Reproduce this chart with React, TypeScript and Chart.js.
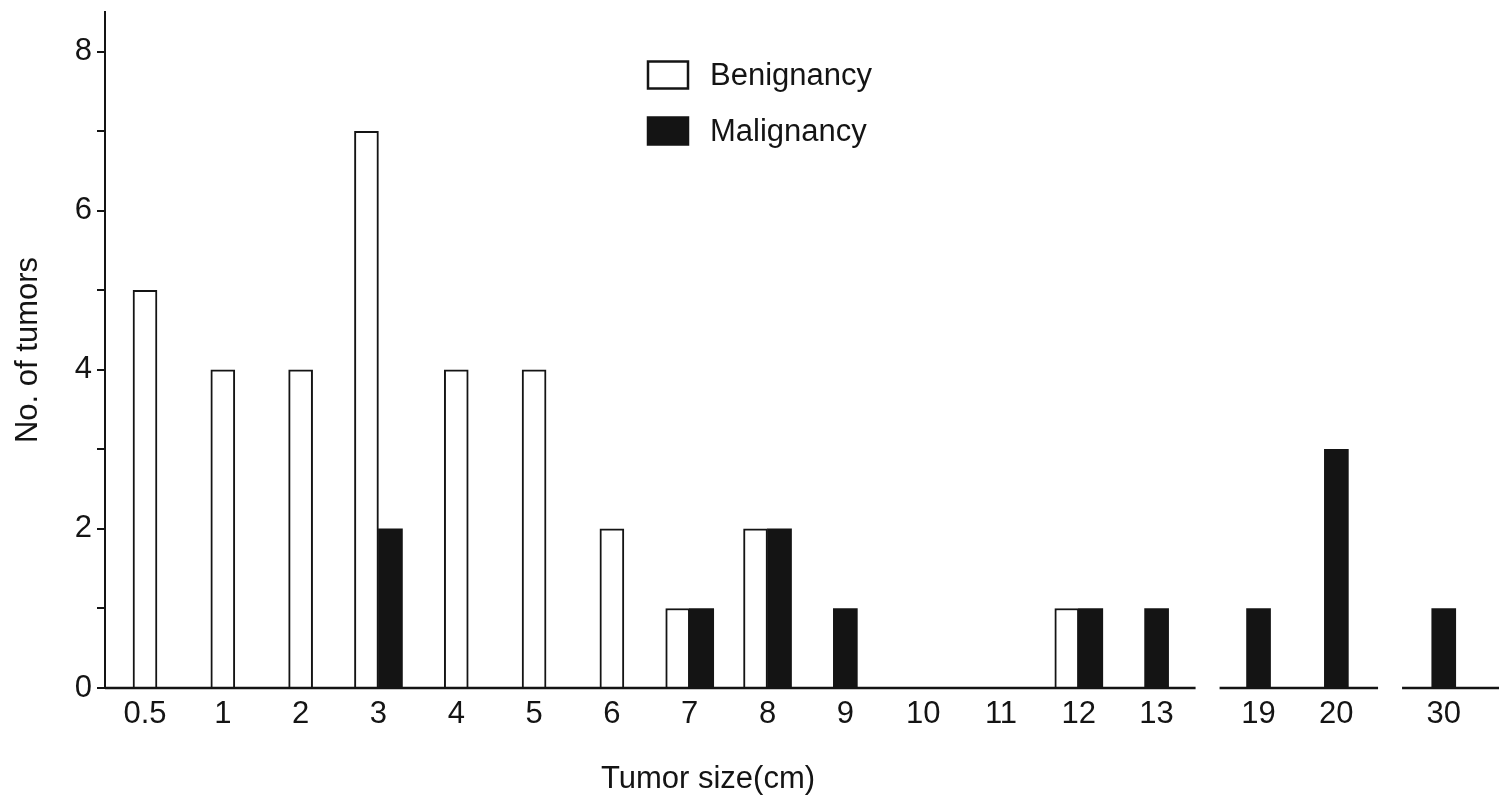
import React, { useEffect, useRef } from "react";
import { Chart, registerables } from "chart.js";

Chart.register(...registerables);

// ---- data ----
const sizeLabels = ["0.5", "1", "2", "3", "4", "5", "6", "7", "8", "9", "10", "11", "12", "13", "19", "20", "30"];
const benignCounts = [5, 4, 4, 7, 4, 4, 2, 1, 2, 0, 0, 0, 1, 0, 0, 0, 0];
const malignantCounts = [0, 0, 0, 2, 0, 0, 0, 1, 2, 1, 0, 0, 1, 1, 1, 3, 1];
const yTickValues = [0, 1, 2, 3, 4, 5, 6, 7, 8];
const yLabelledTicks = [0, 2, 4, 6, 8];
const seriesNames = ["Benignancy", "Malignancy"];
const xTitle = "Tumor size(cm)";
const yTitle = "No. of tumors";

// ---- layout / style ----
const INK = "#141414";
const FONT = "'Liberation Sans', Arial, Helvetica, sans-serif";
const FONT_SIZE = 31;
const BREAK_AFTER = [13, 15]; // axis is broken after these category indices
const BREAK_EXTRA = [0.31, 0.38]; // extra slot width added at each break
const BREAK_HALF_GAP = 12; // px
const X_MIN = -0.514;
const X_MAX = 17.4;

function slotPos(i: number): number {
  let p = i;
  BREAK_AFTER.forEach((b, k) => {
    if (i > b) p += BREAK_EXTRA[k];
  });
  return p;
}

const decorPlugin = {
  id: "decor",
  afterDatasetsDraw(chart: any) {
    const { ctx, chartArea, scales } = chart;
    const xs = scales.x;
    const y = chartArea.bottom;
    const cuts = BREAK_AFTER.map((b) => xs.getPixelForValue((slotPos(b) + slotPos(b + 1)) / 2));
    ctx.save();
    ctx.strokeStyle = INK;
    ctx.lineWidth = 2.5;
    ctx.lineCap = "butt";
    let start = chartArea.left;
    const seg = (a: number, b: number) => {
      ctx.beginPath();
      ctx.moveTo(a, y);
      ctx.lineTo(b, y);
      ctx.stroke();
    };
    cuts.forEach((c) => {
      seg(start, c - BREAK_HALF_GAP);
      start = c + BREAK_HALF_GAP;
    });
    seg(start, chartArea.right);
    ctx.restore();
  },
  afterDraw(chart: any) {
    const { ctx } = chart;
    ctx.save();
    // legend
    const boxX = 648;
    const boxW = 40;
    const boxH = 27;
    const rowY = [75, 131];
    const textX = 710;
    ctx.font = `${FONT_SIZE}px ${FONT}`;
    ctx.textBaseline = "middle";
    ctx.textAlign = "left";
    chart.data.datasets.forEach((ds: any, i: number) => {
      const cy = rowY[i];
      ctx.fillStyle = ds.backgroundColor;
      ctx.fillRect(boxX, cy - boxH / 2, boxW, boxH);
      ctx.strokeStyle = INK;
      ctx.lineWidth = 2.5;
      ctx.strokeRect(boxX, cy - boxH / 2, boxW, boxH);
      ctx.fillStyle = INK;
      ctx.fillText(ds.label, textX, cy + 1);
    });
    // x-axis title
    ctx.textAlign = "center";
    ctx.fillStyle = INK;
    ctx.fillText(xTitle, 708, 779);
    ctx.restore();
  },
};

export default function App() {
  const canvasRef = useRef<HTMLCanvasElement | null>(null);

  useEffect(() => {
    if (!canvasRef.current) return;
    Chart.defaults.font.family = FONT;
    const toPoints = (arr: number[]) => arr.map((v, i) => ({ x: slotPos(i), y: v ? v : null }));
    const chart = new Chart(canvasRef.current, {
      type: "bar",
      data: {
        datasets: [
          {
            label: seriesNames[0],
            data: toPoints(benignCounts) as any,
            backgroundColor: "#ffffff",
            borderColor: INK,
            borderWidth: 2,
          },
          {
            label: seriesNames[1],
            data: toPoints(malignantCounts) as any,
            backgroundColor: INK,
            borderColor: INK,
            borderWidth: 0,
          },
        ],
      },
      options: {
        responsive: false,
        animation: false,
        devicePixelRatio: 1,
        layout: { padding: { top: 12, right: 5, bottom: 0, left: 0 } },
        datasets: {
          bar: { barThickness: 24, grouped: true, skipNull: true, borderSkipped: "start" } as any,
        },
        plugins: {
          legend: { display: false },
          tooltip: { enabled: false },
          title: { display: false },
        },
        scales: {
          x: {
            type: "linear",
            min: X_MIN,
            max: X_MAX,
            bounds: "data",
            offset: false,
            grid: { display: false, drawTicks: false, offset: false },
            border: { display: false },
            afterBuildTicks: (s: any) => {
              s.ticks = sizeLabels.map((_, i) => ({ value: slotPos(i) }));
            },
            afterFit: (s: any) => {
              s.height = 109;
              s.paddingLeft = 0;
              s.paddingRight = 0;
            },
            ticks: {
              autoSkip: false,
              maxRotation: 0,
              minRotation: 0,
              padding: 8,
              color: INK,
              font: { size: FONT_SIZE, family: FONT },
              callback: (_v: any, i: number) => sizeLabels[i],
            },
          },
          y: {
            type: "linear",
            min: 0,
            max: 8.5,
            afterBuildTicks: (s: any) => {
              s.ticks = yTickValues.map((v) => ({ value: v }));
            },
            afterFit: (s: any) => {
              s.width = 105;
              s.paddingTop = 0;
              s.paddingBottom = 0;
            },
            grid: { drawOnChartArea: false, drawTicks: true, tickLength: 8, color: INK, lineWidth: 2 },
            border: { display: true, color: INK, width: 2 },
            ticks: {
              padding: 5,
              color: INK,
              font: { size: FONT_SIZE, family: FONT },
              callback: (v: any) => (yLabelledTicks.includes(Number(v)) ? String(v) : ""),
            },
            title: {
              display: true,
              text: yTitle,
              color: INK,
              font: { size: FONT_SIZE, family: FONT },
              padding: { top: 10, bottom: 0 },
            },
          },
        },
      },
      plugins: [decorPlugin],
    });
    return () => chart.destroy();
  }, []);

  return (
    <div style={{ position: "fixed", left: 0, top: 0, width: 1504, height: 797, background: "#fff" }}>
      <canvas ref={canvasRef} width={1504} height={797} style={{ display: "block" }} />
    </div>
  );
}
